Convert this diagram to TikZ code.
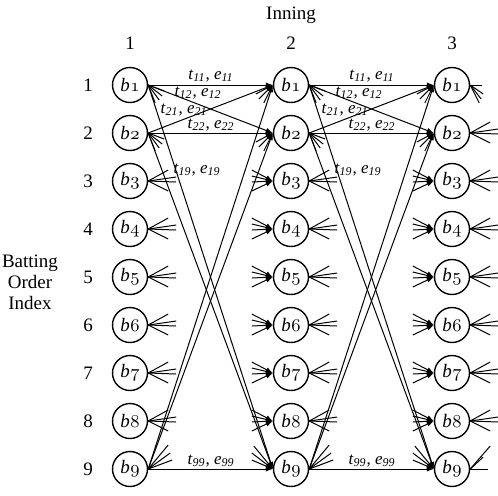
\documentclass[tikz,border=0pt]{standalone}
\usepackage{fontspec}
\setmainfont{Liberation Serif}
\usetikzlibrary{arrows.meta,calc}

% batter node text: italic b with an old-style index
\newcommand\osdig[1]{{\usefont{OML}{cmm}{m}{it}#1}}
\newcommand\bat[1]{\textit{b}\kern0.3pt\osdig{#1}}
% transition label t_ij, e_ij
\newcommand\tlab[1]{\textit{t}\textsubscript{\textit{#1}}, \textit{e}\textsubscript{\textit{#1}}}

\begin{document}
\begin{tikzpicture}[x=0.5pt,y=-0.5pt,
  bnode/.style={circle,draw,line width=0.7pt,minimum size=17.5pt,inner sep=0pt,
    font=\fontsize{9.5}{10}\selectfont},
  lab/.style={font=\fontsize{9.5}{10.5}\selectfont,inner sep=0pt},
  elab/.style={font=\fontsize{8.5}{9}\selectfont,inner sep=0pt},
  edge/.style={line width=0.5pt,-{Latex[length=3.5pt,width=2.6pt]}},
  stub/.style={line width=0.5pt},
  instub/.style={line width=0.5pt,-{Latex[length=3.5pt,width=2.6pt]}}]
\useasboundingbox (0,0) rectangle (498,495);

% headings
\node[lab] (inning) at (291,15) {Inning};
\foreach \c/\x in {1/130,2/291,3/452}
  \node[lab] (col\c) at (\x,43) {\c};
\node[lab,align=center] (boi) at (30,282) {Batting\\Order\\Index};

% batter nodes and row numbers
\foreach \i in {1,...,9} {
  \node[lab] (row\i) at (88,{85+48*(\i-1)}) {\i};
  \foreach \c/\x in {1/130,2/291,3/452}
    \node[bnode] (c\c b\i) at (\x,{85+48*(\i-1)}) {\bat{\i}};
}

% drawn transitions between consecutive innings
\foreach \a/\b in {1/2,2/3}
  \foreach \s in {1,2,9}
    \foreach \t in {1,2,9}
      \draw[edge] (c\a b\s.east) -- (c\b b\t.west);

% transition labels
\foreach \c/\d in {1/0,2/161} {
  \node[elab] (l11-\c) at (211+\d,76) {\tlab{11}};
  \node[elab] (l12-\c) at (198+\d,93) {\tlab{12}};
  \node[elab] (l21-\c) at (184+\d,110) {\tlab{21}};
  \node[elab] (l22-\c) at (211+\d,125) {\tlab{22}};
  \node[elab] (l19-\c) at (197+\d,170) {\tlab{19}};
  \node[elab] (l99-\c) at (211+\d,461) {\tlab{99}};
}

% outgoing stubs of the remaining transitions
\foreach \c in {1,2} {
  \foreach \i in {3,...,8}
    \foreach \dx/\dy [count=\k] in {20/-11,28/-4,28/1,20/10} {
      \coordinate (o\c-\i-\k) at ($(c\c b\i.east)+(\dx,\dy)$);
      \draw[stub] (c\c b\i.east) -- (o\c-\i-\k);
    }
  \foreach \i in {1,2}
    \foreach \dx/\dy [count=\k] in {16/6,14/11,11/15,7/18} {
      \coordinate (o\c-\i-\k) at ($(c\c b\i.east)+(\dx,\dy)$);
      \draw[stub] (c\c b\i.east) -- (o\c-\i-\k);
    }
  \foreach \dx/\dy [count=\k] in {20/-24,22/-16,24/-9} {
    \coordinate (o\c-9-\k) at ($(c\c b9.east)+(\dx,\dy)$);
    \draw[stub] (c\c b9.east) -- (o\c-9-\k);
  }
}
\foreach \i in {2,...,8}
  \foreach \dx/\dy [count=\k] in {20/-11,28/-4,28/1,20/10} {
    \coordinate (o3-\i-\k) at ($(c3b\i.east)+(\dx,\dy)$);
    \draw[stub] (c3b\i.east) -- (o3-\i-\k);
  }
\foreach \dx/\dy [count=\k] in {12/0,13/9,11/14,9/18} {
  \coordinate (o3-1-\k) at ($(c3b1.east)+(\dx,\dy)$);
  \draw[stub] (c3b1.east) -- (o3-1-\k);
}
\foreach \dx/\dy [count=\k] in {18/0,13/-12,20/-23} {
  \coordinate (o3-9-\k) at ($(c3b9.east)+(\dx,\dy)$);
  \draw[stub] (c3b9.east) -- (o3-9-\k);
}

% incoming stubs of the remaining transitions
\foreach \c in {2,3} {
  \foreach \i in {3,...,8}
    \foreach \dx/\dy [count=\k] in {-21/-11,-21/-5,-21/1,-21/10} {
      \coordinate (n\c-\i-\k) at ($(c\c b\i.west)+(\dx,\dy)$);
      \draw[instub] (n\c-\i-\k) -- (c\c b\i.west);
    }
  \foreach \i in {1,2}
    \foreach \dx/\dy [count=\k] in {-17/9,-14/14,-9/18} {
      \coordinate (n\c-\i-\k) at ($(c\c b\i.west)+(\dx,\dy)$);
      \draw[instub] (n\c-\i-\k) -- (c\c b\i.west);
    }
  \foreach \dx/\dy [count=\k] in {-19/-23,-21/-16,-21/-9} {
    \coordinate (n\c-9-\k) at ($(c\c b9.west)+(\dx,\dy)$);
    \draw[instub] (n\c-9-\k) -- (c\c b9.west);
  }
}
\end{tikzpicture}
\end{document}
